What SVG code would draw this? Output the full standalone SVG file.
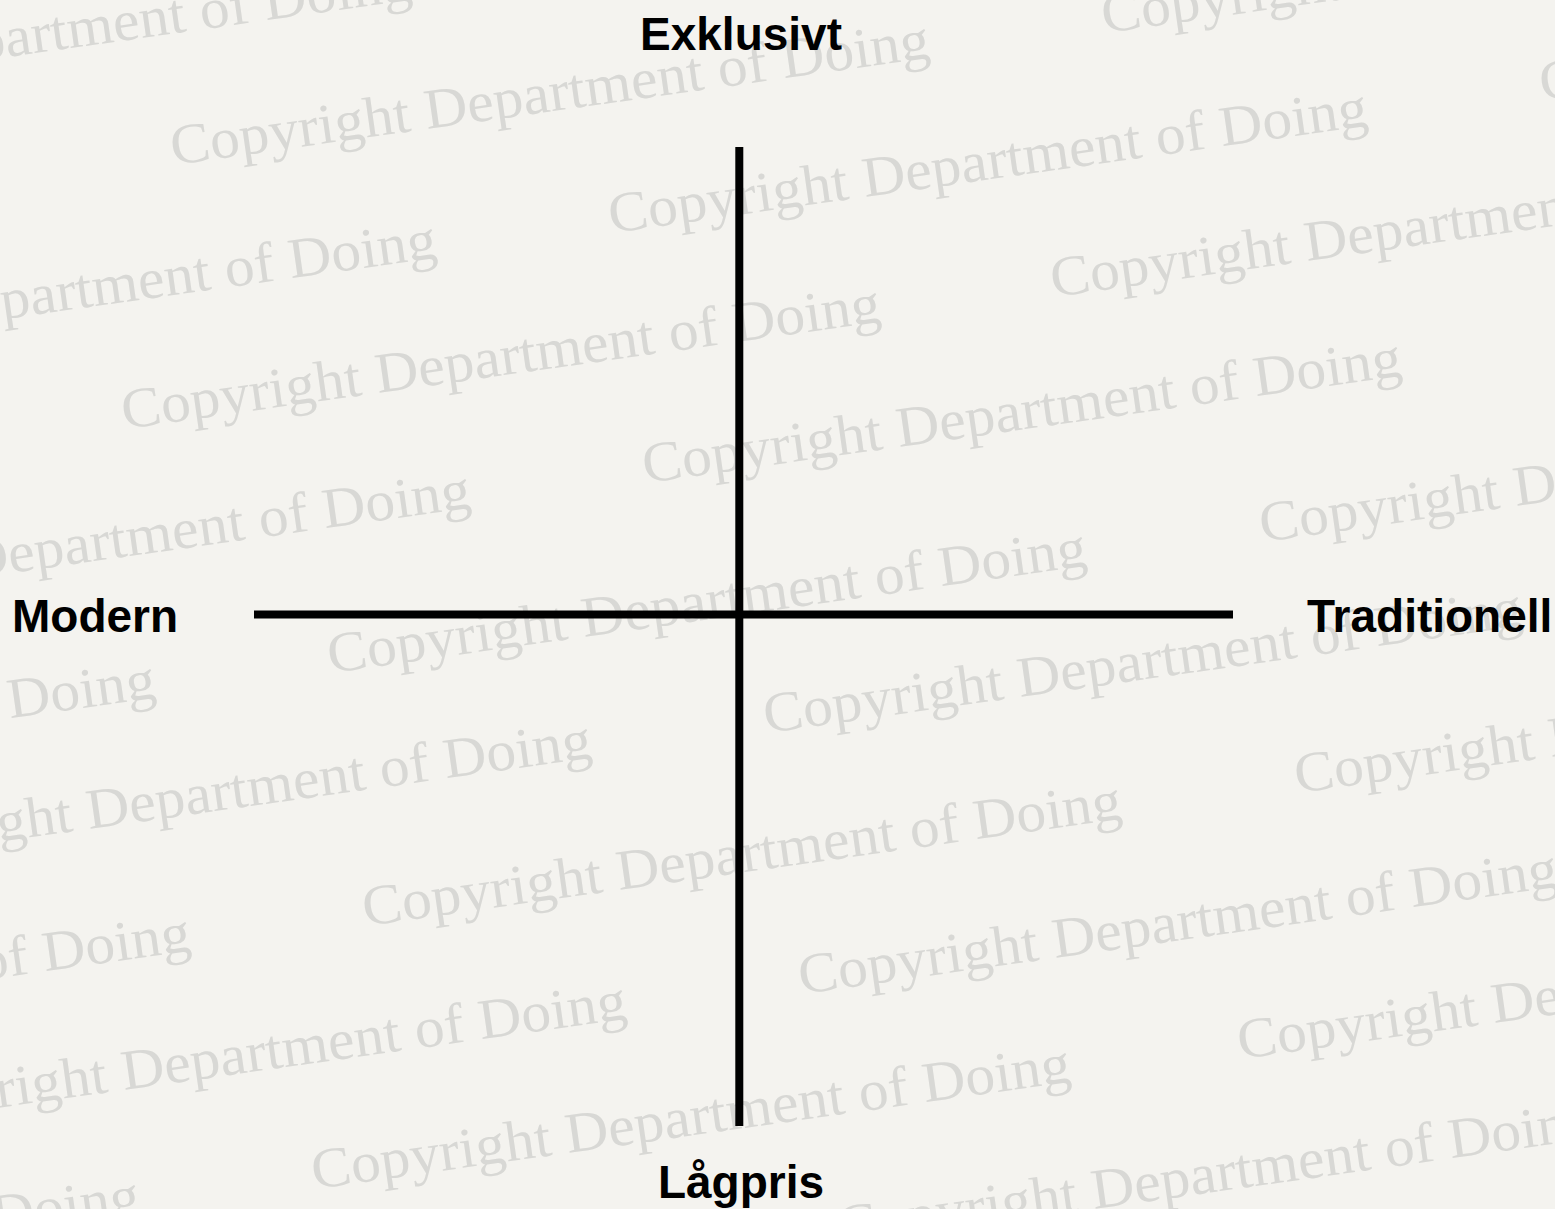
<svg xmlns="http://www.w3.org/2000/svg" width="1555" height="1209" viewBox="0 0 1555 1209">
<style>
.bg{fill:#f4f3ef}
.wm{font-family:"Liberation Serif","Times New Roman",serif;font-size:57px;fill:#d8d8d5}
.label{font-family:"Liberation Sans",Arial,sans-serif;font-weight:bold;font-size:46px;fill:#000}
.axis{stroke:#000;stroke-width:8;stroke-linecap:butt;fill:none}
</style>
<rect class="bg" x="0" y="0" width="1555" height="1209"/>
<g id="watermark">
<text class="wm" textLength="766" lengthAdjust="spacingAndGlyphs" transform="translate(-345,107) rotate(-8.07)">Copyright Department of Doing</text>
<text class="wm" textLength="766" lengthAdjust="spacingAndGlyphs" transform="translate(-758,297) rotate(-8.07)">Copyright Department of Doing</text>
<text class="wm" textLength="766" lengthAdjust="spacingAndGlyphs" transform="translate(173,165) rotate(-8.07)">Copyright Department of Doing</text>
<text class="wm" textLength="766" lengthAdjust="spacingAndGlyphs" transform="translate(1104,33) rotate(-8.07)">Copyright Department of Doing</text>
<text class="wm" textLength="766" lengthAdjust="spacingAndGlyphs" transform="translate(-320,365) rotate(-8.07)">Copyright Department of Doing</text>
<text class="wm" textLength="766" lengthAdjust="spacingAndGlyphs" transform="translate(611,233) rotate(-8.07)">Copyright Department of Doing</text>
<text class="wm" textLength="766" lengthAdjust="spacingAndGlyphs" transform="translate(1542,101) rotate(-8.07)">Copyright Department of Doing</text>
<text class="wm" textLength="766" lengthAdjust="spacingAndGlyphs" transform="translate(124,429) rotate(-8.07)">Copyright Department of Doing</text>
<text class="wm" textLength="766" lengthAdjust="spacingAndGlyphs" transform="translate(1053,297) rotate(-8.07)">Copyright Department of Doing</text>
<text class="wm" textLength="766" lengthAdjust="spacingAndGlyphs" transform="translate(-286,615) rotate(-8.07)">Copyright Department of Doing</text>
<text class="wm" textLength="766" lengthAdjust="spacingAndGlyphs" transform="translate(645,483) rotate(-8.07)">Copyright Department of Doing</text>
<text class="wm" textLength="766" lengthAdjust="spacingAndGlyphs" transform="translate(-601,805) rotate(-8.07)">Copyright Department of Doing</text>
<text class="wm" textLength="766" lengthAdjust="spacingAndGlyphs" transform="translate(330,673) rotate(-8.07)">Copyright Department of Doing</text>
<text class="wm" textLength="766" lengthAdjust="spacingAndGlyphs" transform="translate(1262,542) rotate(-8.07)">Copyright Department of Doing</text>
<text class="wm" textLength="766" lengthAdjust="spacingAndGlyphs" transform="translate(-165,865) rotate(-8.07)">Copyright Department of Doing</text>
<text class="wm" textLength="766" lengthAdjust="spacingAndGlyphs" transform="translate(766,733) rotate(-8.07)">Copyright Department of Doing</text>
<text class="wm" textLength="766" lengthAdjust="spacingAndGlyphs" transform="translate(-566,1058) rotate(-8.07)">Copyright Department of Doing</text>
<text class="wm" textLength="766" lengthAdjust="spacingAndGlyphs" transform="translate(365,926) rotate(-8.07)">Copyright Department of Doing</text>
<text class="wm" textLength="766" lengthAdjust="spacingAndGlyphs" transform="translate(1297,793) rotate(-8.07)">Copyright Department of Doing</text>
<text class="wm" textLength="766" lengthAdjust="spacingAndGlyphs" transform="translate(-130,1126) rotate(-8.07)">Copyright Department of Doing</text>
<text class="wm" textLength="766" lengthAdjust="spacingAndGlyphs" transform="translate(801,994) rotate(-8.07)">Copyright Department of Doing</text>
<text class="wm" textLength="766" lengthAdjust="spacingAndGlyphs" transform="translate(-617,1321) rotate(-8.07)">Copyright Department of Doing</text>
<text class="wm" textLength="766" lengthAdjust="spacingAndGlyphs" transform="translate(314,1189) rotate(-8.07)">Copyright Department of Doing</text>
<text class="wm" textLength="766" lengthAdjust="spacingAndGlyphs" transform="translate(1240,1059) rotate(-8.07)">Copyright Department of Doing</text>
<text class="wm" textLength="766" lengthAdjust="spacingAndGlyphs" transform="translate(840,1245) rotate(-8.07)">Copyright Department of Doing</text>
</g>
<g id="connectors">
<line class="axis" x1="739.3" y1="147" x2="739.3" y2="1126"/>
<line class="axis" x1="254" y1="614.5" x2="1233" y2="614.5"/>
</g>
<g id="node-exklusivt"><text class="label" x="741" y="50" text-anchor="middle">Exklusivt</text></g>
<g id="node-modern"><text class="label" x="12" y="632">Modern</text></g>
<g id="node-traditionell"><text class="label" x="1307" y="632">Traditionell</text></g>
<g id="node-lagpris"><text class="label" x="741" y="1198" text-anchor="middle">Lågpris</text></g>
</svg>
